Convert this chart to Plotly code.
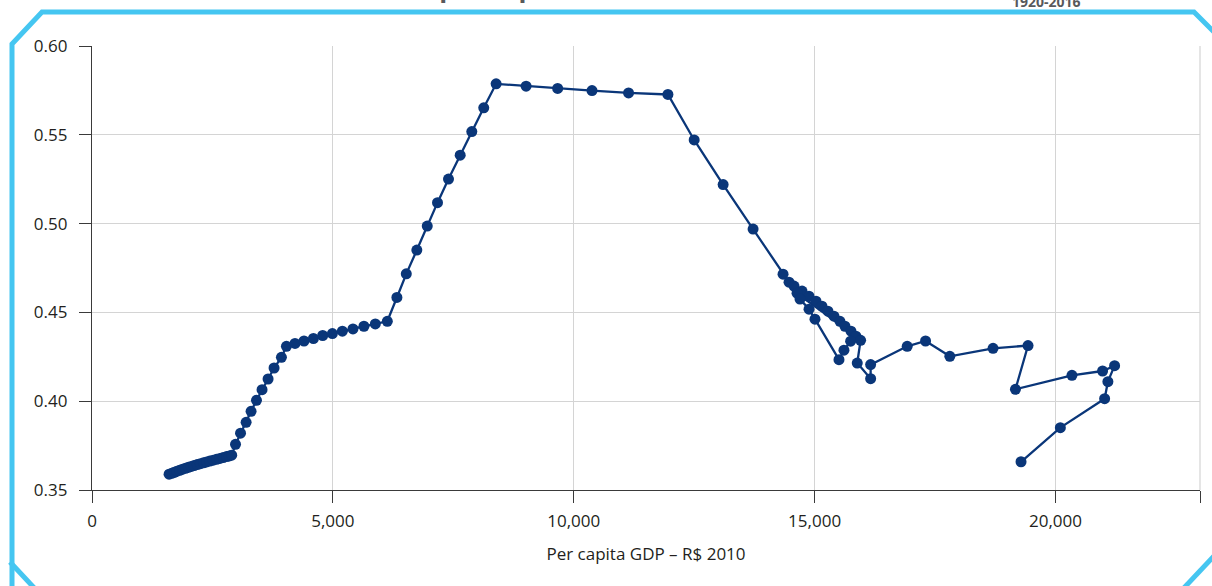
import plotly.graph_objects as go

# Per capita GDP (R$ 2010) and inequality index, 1920-2016
gdp = [
    1600, 1655, 1710, 1765, 1820, 1880, 1940, 2000, 2060, 2120, 2185,
    2250, 2315, 2380, 2445, 2515, 2585, 2655, 2725, 2795, 2850, 2900,
    2979, 3083, 3199, 3302, 3414, 3530, 3655, 3779, 3932,
    4036, 4214, 4401, 4596, 4789, 4990, 5197, 5417, 5645, 5881, 6130,
    6329, 6524, 6743, 6959, 7172, 7400, 7643, 7884, 8132, 8389,
    9011, 9666, 10379, 11138, 11955,
    12500, 13101, 13723, 14345,
    14469, 14573, 14739, 14884, 15029, 15153, 15277, 15402, 15526, 15630, 15755, 15858,
    14635, 14697, 14884, 15008,
    15506, 15609, 15748, 15955, 15885, 16163, 16163,
    16922, 17303, 17807, 18704, 19430, 19169,
    20342, 20978, 21227, 21088, 21020, 20101, 19285,
]
gini = [
    0.3589, 0.3594, 0.3600, 0.3606, 0.3611, 0.3617, 0.3622, 0.3628, 0.3633, 0.3638, 0.3643,
    0.3648, 0.3653, 0.3658, 0.3663, 0.3668, 0.3673, 0.3678, 0.3683, 0.3688, 0.3692, 0.3696,
    0.3757, 0.3820, 0.3881, 0.3943, 0.4005, 0.4065, 0.4125, 0.4187, 0.4247,
    0.4309, 0.4325, 0.4339, 0.4353, 0.4370, 0.4381, 0.4394, 0.4407, 0.4422, 0.4435, 0.4450,
    0.4584, 0.4717, 0.4851, 0.4986, 0.5118, 0.5251, 0.5385, 0.5518, 0.5652, 0.5787,
    0.5774, 0.5761, 0.5749, 0.5736, 0.5727,
    0.5471, 0.5220, 0.4969, 0.4715,
    0.4670, 0.4648, 0.4620, 0.4591, 0.4563, 0.4535, 0.4507, 0.4479, 0.4450, 0.4422, 0.4394, 0.4366,
    0.4608, 0.4575, 0.4518, 0.4462,
    0.4234, 0.4287, 0.4338, 0.4343, 0.4215, 0.4127, 0.4206,
    0.4309, 0.4339, 0.4253, 0.4298, 0.4313, 0.4067,
    0.4146, 0.4170, 0.4200, 0.4110, 0.4014, 0.3851, 0.3659,
]

x_ticks = [0, 5000, 10000, 15000, 20000, 23000]
x_tick_text = ["0", "5,000", "10,000", "15,000", "20,000", ""]
y_ticks = [0.35, 0.40, 0.45, 0.50, 0.55, 0.60]
y_tick_text = ["0.35", "0.40", "0.45", "0.50", "0.55", "0.60"]

x_title = "Per capita GDP – R$ 2010"
period_label = "1920-2016"
title_text = "Gini index and per capita GDP"

NAVY = "#0a3679"
TXT = "#231f20"
GRID = "#d4d4d4"
CYAN = "#45c6f1"
FONT = "Open Sans"

W, H = 1212, 586
ML, MR, MT, MB = 92, 12, 46, 96

fig = go.Figure()
fig.add_trace(go.Scatter(
    x=gdp, y=gini, mode="lines+markers",
    line=dict(color=NAVY, width=2.3),
    marker=dict(color=NAVY, size=11, line=dict(width=0)),
    hoverinfo="x+y", showlegend=False,
))

def px_to_paper(px, py):
    return (px - ML) / (W - ML - MR), (H - MB - py) / (H - MT - MB)

# cyan frame with cut corners (decoration, in paper coordinates)
frame_pts = [(12, 600), (12, 44), (42, 12), (1194, 12), (1230, 48)]
path = "M " + " L ".join(f"{a:.5f},{b:.5f}" for a, b in (px_to_paper(*p) for p in frame_pts))
fig.add_shape(type="path", path=path, xref="paper", yref="paper",
              line=dict(color=CYAN, width=5))
for seg in [[(10, 562), (38, 592)], [(1214, 556), (1182, 590)]]:
    (a0, b0), (a1, b1) = px_to_paper(*seg[0]), px_to_paper(*seg[1])
    fig.add_shape(type="line", x0=a0, y0=b0, x1=a1, y1=b1, xref="paper", yref="paper",
                  line=dict(color=CYAN, width=5))

# right border grid line
fig.add_shape(type="line", x0=1, x1=1, y0=0, y1=1, xref="paper", yref="paper",
              line=dict(color=GRID, width=1.2), layer="below")

tx, ty = px_to_paper(1046, 2)
fig.add_annotation(text=f"<b>{period_label}</b>", x=tx, y=ty, xref="paper", yref="paper",
                   xanchor="center", yanchor="middle", showarrow=False,
                   font=dict(family=FONT, size=14, color="#58595b"))
hx, hy = px_to_paper(244, -13)
fig.add_annotation(text=f"<b>{title_text}</b>", x=hx, y=hy, xref="paper", yref="paper",
                   xanchor="left", yanchor="middle", showarrow=False,
                   font=dict(family=FONT, size=26, color="#58595b"))

fig.update_layout(
    width=W, height=H,
    margin=dict(l=ML, r=MR, t=MT, b=MB),
    paper_bgcolor="white", plot_bgcolor="white",
    font=dict(family=FONT, size=17, color=TXT),
    xaxis=dict(
        range=[0, 23000], tickvals=x_ticks, ticktext=x_tick_text,
        showgrid=True, gridcolor=GRID, gridwidth=1.2,
        showline=True, linecolor="#3a3a3a", linewidth=1.3,
        ticks="outside", ticklen=12, tickcolor="#3a3a3a", tickwidth=1.3,
        ticklabelstandoff=3,
        zeroline=False,
        title=dict(text=x_title, font=dict(size=17, color=TXT), standoff=17),
        tickfont=dict(size=17, color=TXT),
    ),
    yaxis=dict(
        range=[0.35, 0.60], tickvals=y_ticks, ticktext=y_tick_text,
        showgrid=True, gridcolor=GRID, gridwidth=1.2,
        showline=True, linecolor="#3a3a3a", linewidth=1.3,
        ticks="outside", ticklen=12, tickcolor="#3a3a3a", tickwidth=1.3,
        ticklabelstandoff=8,
        zeroline=False,
        tickfont=dict(size=17, color=TXT),
    ),
)

fig.write_html("out.html", config={"displayModeBar": False},
               post_script="document.body.style.margin='0';")
